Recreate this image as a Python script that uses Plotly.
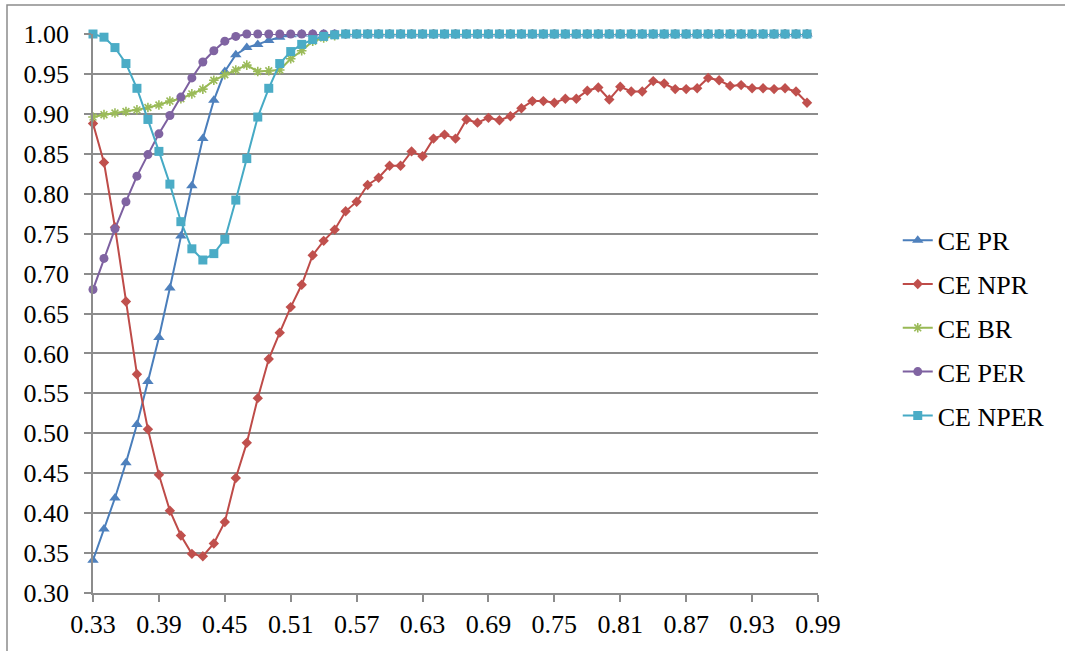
import plotly.graph_objects as go

x_vals = [0.33, 0.34, 0.35, 0.36, 0.37, 0.38, 0.39, 0.40, 0.41, 0.42, 0.43, 0.44, 0.45, 0.46, 0.47, 0.48,
          0.49, 0.50, 0.51, 0.52, 0.53, 0.54, 0.55, 0.56, 0.57, 0.58, 0.59, 0.60, 0.61, 0.62, 0.63, 0.64,
          0.65, 0.66, 0.67, 0.68, 0.69, 0.70, 0.71, 0.72, 0.73, 0.74, 0.75, 0.76, 0.77, 0.78, 0.79, 0.80,
          0.81, 0.82, 0.83, 0.84, 0.85, 0.86, 0.87, 0.88, 0.89, 0.90, 0.91, 0.92, 0.93, 0.94, 0.95, 0.96,
          0.97, 0.98]

ce_pr = [0.341, 0.380, 0.419, 0.463, 0.511, 0.565, 0.620, 0.682, 0.747, 0.810, 0.869, 0.917, 0.953, 0.974, 0.983, 0.987,
         0.992, 0.996, 0.999, 1.000, 1.000, 1.000, 1.000, 1.000, 1.000, 1.000, 1.000, 1.000, 1.000, 1.000, 1.000, 1.000,
         1.000, 1.000, 1.000, 1.000, 1.000, 1.000, 1.000, 1.000, 1.000, 1.000, 1.000, 1.000, 1.000, 1.000, 1.000, 1.000,
         1.000, 1.000, 1.000, 1.000, 1.000, 1.000, 1.000, 1.000, 1.000, 1.000, 1.000, 1.000, 1.000, 1.000, 1.000, 1.000,
         1.000, 1.000]

ce_npr = [0.888, 0.839, 0.758, 0.665, 0.574, 0.505, 0.448, 0.403, 0.372, 0.349, 0.346, 0.362, 0.389, 0.444, 0.488, 0.544,
          0.593, 0.626, 0.658, 0.686, 0.723, 0.741, 0.755, 0.778, 0.790, 0.811, 0.820, 0.835, 0.835, 0.853, 0.847, 0.869,
          0.874, 0.869, 0.893, 0.889, 0.895, 0.892, 0.897, 0.907, 0.916, 0.916, 0.914, 0.919, 0.919, 0.929, 0.933, 0.918,
          0.934, 0.928, 0.928, 0.941, 0.938, 0.931, 0.931, 0.932, 0.945, 0.942, 0.935, 0.936, 0.932, 0.932, 0.931, 0.932,
          0.928, 0.914]

ce_br = [0.896, 0.899, 0.901, 0.903, 0.905, 0.908, 0.911, 0.916, 0.919, 0.925, 0.931, 0.942, 0.949, 0.955, 0.961, 0.953,
         0.954, 0.955, 0.969, 0.979, 0.991, 0.995, 0.998, 1.000, 1.000, 1.000, 1.000, 1.000, 1.000, 1.000, 1.000, 1.000,
         1.000, 1.000, 1.000, 1.000, 1.000, 1.000, 1.000, 1.000, 1.000, 1.000, 1.000, 1.000, 1.000, 1.000, 1.000, 1.000,
         1.000, 1.000, 1.000, 1.000, 1.000, 1.000, 1.000, 1.000, 1.000, 1.000, 1.000, 1.000, 1.000, 1.000, 1.000, 1.000,
         1.000, 1.000]

ce_per = [0.680, 0.719, 0.756, 0.790, 0.822, 0.849, 0.875, 0.898, 0.921, 0.945, 0.965, 0.979, 0.991, 0.997, 1.000, 1.000,
          1.000, 1.000, 1.000, 1.000, 1.000, 1.000, 1.000, 1.000, 1.000, 1.000, 1.000, 1.000, 1.000, 1.000, 1.000, 1.000,
          1.000, 1.000, 1.000, 1.000, 1.000, 1.000, 1.000, 1.000, 1.000, 1.000, 1.000, 1.000, 1.000, 1.000, 1.000, 1.000,
          1.000, 1.000, 1.000, 1.000, 1.000, 1.000, 1.000, 1.000, 1.000, 1.000, 1.000, 1.000, 1.000, 1.000, 1.000, 1.000,
          1.000, 1.000]

ce_nper = [1.000, 0.996, 0.983, 0.963, 0.932, 0.893, 0.853, 0.812, 0.765, 0.731, 0.717, 0.725, 0.743, 0.792, 0.844, 0.896,
           0.932, 0.963, 0.978, 0.987, 0.993, 0.997, 0.999, 1.000, 1.000, 1.000, 1.000, 1.000, 1.000, 1.000, 1.000, 1.000,
           1.000, 1.000, 1.000, 1.000, 1.000, 1.000, 1.000, 1.000, 1.000, 1.000, 1.000, 1.000, 1.000, 1.000, 1.000, 1.000,
           1.000, 1.000, 1.000, 1.000, 1.000, 1.000, 1.000, 1.000, 1.000, 1.000, 1.000, 1.000, 1.000, 1.000, 1.000, 1.000,
           1.000, 1.000]

x_ticks = [0.33, 0.39, 0.45, 0.51, 0.57, 0.63, 0.69, 0.75, 0.81, 0.87, 0.93, 0.99]
y_ticks = [0.30, 0.35, 0.40, 0.45, 0.50, 0.55, 0.60, 0.65, 0.70, 0.75, 0.80, 0.85, 0.90, 0.95, 1.00]

series = [
    ("CE PR", ce_pr, "#4A7EBB", "#4F81BD", "triangle-up", 10),
    ("CE NPR", ce_npr, "#BE4B48", "#C0504D", "diamond", 8),
    ("CE BR", ce_br, "#98B954", "#9BBB59", "asterisk-open", 8),
    ("CE PER", ce_per, "#7D60A0", "#8064A2", "circle", 9),
    ("CE NPER", ce_nper, "#46AAC5", "#4BACC6", "square", 9),
]

fig = go.Figure()
for name, vals, lc, mc, sym, sz in series:
    marker = dict(symbol=sym, size=sz, color=mc)
    if sym == "asterisk-open":
        marker["line"] = dict(color=mc, width=1.6)
    else:
        marker["line"] = dict(width=0)
    fig.add_trace(go.Scatter(
        x=x_vals, y=vals, name=name, mode="lines+markers",
        line=dict(color=lc, width=2), marker=marker,
        cliponaxis=False, legendgroup=name,
    ))

tick_font = dict(family="Liberation Serif", size=26, color="#000000")
legend_font = dict(family="Liberation Serif", size=26, color="#000000")
grid = "#8C8C8C"

fig.update_layout(
    width=1065, height=651,
    margin=dict(l=93, r=247, t=34, b=58),
    paper_bgcolor="white", plot_bgcolor="white",
    font=tick_font,
    showlegend=True,
    legend=dict(x=1.11, y=0.673, xanchor="left", yanchor="top",
                font=legend_font, tracegroupgap=7, bgcolor="rgba(0,0,0,0)"),
    xaxis=dict(range=[0.33, 0.99], tickvals=x_ticks, ticktext=["%.2f" % v for v in x_ticks],
               showgrid=False, showline=True, linecolor=grid, linewidth=1.5,
               ticks="outside", ticklen=7, tickcolor=grid, tickwidth=1.5, zeroline=False,
               tickfont=tick_font),
    yaxis=dict(range=[0.30, 1.00], tickvals=y_ticks, ticktext=["%.2f" % v for v in y_ticks],
               showgrid=True, gridcolor=grid, gridwidth=1.5,
               showline=True, linecolor=grid, linewidth=1.5,
               ticks="outside", ticklen=7, tickcolor=grid, tickwidth=1.5, zeroline=False,
               tickfont=tick_font, ticklabelstandoff=10),
    shapes=[dict(type="rect", xref="paper", yref="paper",
                 x0=(7 - 93) / 725, x1=(1070 - 93) / 725,
                 y0=(593 - 660) / 559, y1=(593 - 5) / 559,
                 line=dict(color="#8C8C8C", width=1.5), fillcolor="rgba(0,0,0,0)", layer="below")],
)

fig.write_html("out.html")
